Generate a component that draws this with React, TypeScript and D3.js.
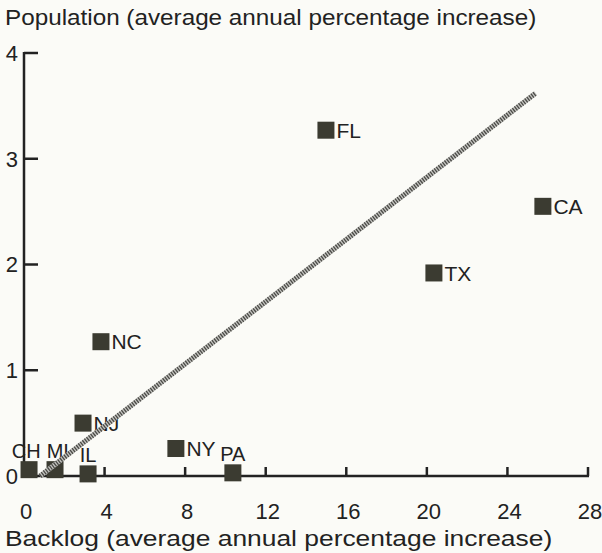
import React from "react";
import * as d3 from "d3";

const states = ["CH", "MI", "IL", "NJ", "NY", "PA", "NC", "FL", "TX", "CA"];
const backlog = [0.25, 1.54, 3.18, 2.93, 7.54, 10.37, 3.82, 14.99, 20.35, 25.76];
const population = [0.06, 0.06, 0.02, 0.5, 0.26, 0.03, 1.27, 3.27, 1.92, 2.55];
const xTicks = [0, 4, 8, 12, 16, 20, 24, 28];
const yTicks = [0, 1, 2, 3, 4];
const trendX = [0.8, 25.4];
const trendY = [0, 3.62];
const yTitle = "Population (average annual percentage increase)";
const xTitle = "Backlog (average annual percentage increase)";

const W = 602;
const H = 553;

export default function App() {
  const x = d3.scaleLinear().domain([0, 28]).range([24, 588]);
  const y = d3.scaleLinear().domain([0, 4]).range([476, 53]);
  const ink = "#222";
  const sq = 17;
  const font = "'Liberation Sans', Arial, Helvetica, sans-serif";
  const line = d3
    .line<number>()
    .x((_, i) => x(trendX[i]))
    .y((d) => y(d))(trendY) as string;

  // measure label widths for simple collision nudging of labels placed above squares
  const ctx = document.createElement("canvas").getContext("2d");
  const measure = (s: string, fs: number) => {
    if (!ctx) return s.length * fs * 0.65;
    ctx.font = `${fs}px 'Liberation Sans', Arial, sans-serif`;
    return ctx.measureText(s).width;
  };
  const aboveFs = 20;
  const labelX: number[] = states.map((_, i) => x(backlog[i]));
  const aboveIdx = states
    .map((_, i) => i)
    .filter((i) => population[i] < 0.1)
    .sort((a, b) => backlog[a] - backlog[b]);
  for (let k = 1; k < aboveIdx.length; k++) {
    const a = aboveIdx[k - 1];
    const b = aboveIdx[k];
    const need = measure(states[a], aboveFs) / 2 + measure(states[b], aboveFs) / 2 + 6;
    const gap = labelX[b] - labelX[a];
    if (gap < need) {
      const push = (need - gap) / 2;
      labelX[a] -= push;
      labelX[b] += push;
    }
  }

  return (
    <svg
      width={W}
      height={H}
      style={{ position: "absolute", left: 0, top: 0, background: "#fbfbf7" }}
      fontFamily={font}
    >
      <rect width={W} height={H} fill="#fbfbf7" />
      {/* titles */}
      <text transform="translate(5,25) scale(1.1,1)" fontSize={22} fill={ink} textLength={483} lengthAdjust="spacingAndGlyphs">
        {yTitle}
      </text>
      <text transform="translate(5,546) scale(1.2,1)" fontSize={22} fill={ink} textLength={456} lengthAdjust="spacingAndGlyphs">
        {xTitle}
      </text>

      {/* y axis */}
      <line x1={x(0)} x2={x(0)} y1={y(4) - 1} y2={y(0) + 1} stroke={ink} strokeWidth={2.5} />
      {yTicks.map((t) => (
        <g key={"y" + t}>
          {t > 0 && <line x1={x(0)} x2={x(0) + 14} y1={y(t)} y2={y(t)} stroke={ink} strokeWidth={2.5} />}
          <text x={x(0) - 6} y={y(t)} dy="0.36em" fontSize={22} textAnchor="end" fill={ink}>
            {t}
          </text>
        </g>
      ))}

      {/* x axis */}
      <line x1={x(0)} x2={x(28) + 1} y1={y(0)} y2={y(0)} stroke={ink} strokeWidth={2.5} />
      {xTicks.map((t) => (
        <g key={"x" + t}>
          {t > 0 && <line x1={x(t)} x2={x(t)} y1={y(0)} y2={y(0) - 9} stroke={ink} strokeWidth={2.5} />}
          <text x={x(t) + 2} y={519} fontSize={22} textAnchor="middle" fill={ink}>
            {t}
          </text>
        </g>
      ))}

      {/* points */}
      {states.map((s, i) => {
        const cx = x(backlog[i]);
        const cy = y(population[i]);
        const above = population[i] < 0.1;
        return (
          <g key={s}>
            <rect x={cx - sq / 2} y={cy - sq / 2} width={sq} height={sq} fill="#3b3b31" />
            {above ? (
              <text x={labelX[i]} y={cy - sq / 2 - 3} fontSize={aboveFs} textAnchor="middle" fill={ink}>
                {s}
              </text>
            ) : (
              <text x={cx + sq / 2 + 2} y={cy} dy="0.36em" fontSize={21} fill={ink}>
                {s}
              </text>
            )}
          </g>
        );
      })}

      {/* trend line */}
      <path d={line} stroke="#c4c4c0" strokeWidth={5} fill="none" />
      <path d={line} stroke="#4a4a46" strokeWidth={5} strokeDasharray="1.3 1.3" fill="none" />
    </svg>
  );
}
